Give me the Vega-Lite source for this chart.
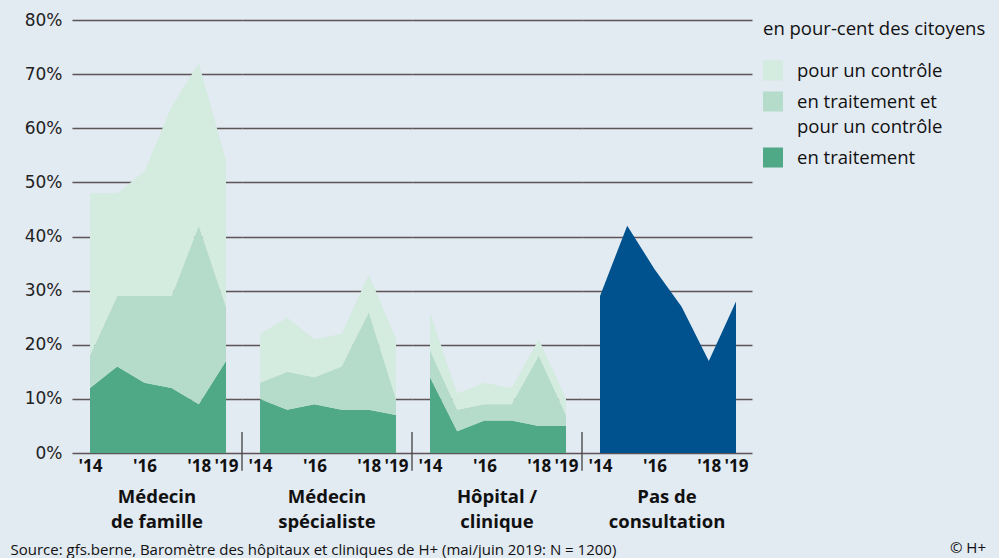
{
  "$schema": "https://vega.github.io/schema/vega-lite/v6.json",
  "background": "#e2eaf2",
  "padding": {"left": 10, "top": 11, "right": 14, "bottom": 4},
  "bounds": "flush",
  "title": {
    "text": "© H+",
    "orient": "bottom",
    "anchor": "end",
    "frame": "bounds",
    "font": "Open Sans",
    "fontSize": 15,
    "fontWeight": "normal",
    "color": "#111",
    "offset": 0,
    "dy": -16
  },
  "data": {
    "values": [
      {"groupe": "Médecin|de famille", "type": "en traitement", "annee": 2014, "valeur": 12},
      {"groupe": "Médecin|de famille", "type": "en traitement", "annee": 2015, "valeur": 16},
      {"groupe": "Médecin|de famille", "type": "en traitement", "annee": 2016, "valeur": 13},
      {"groupe": "Médecin|de famille", "type": "en traitement", "annee": 2017, "valeur": 12},
      {"groupe": "Médecin|de famille", "type": "en traitement", "annee": 2018, "valeur": 9},
      {"groupe": "Médecin|de famille", "type": "en traitement", "annee": 2019, "valeur": 17},
      {"groupe": "Médecin|de famille", "type": "en traitement et|pour un contrôle", "annee": 2014, "valeur": 6},
      {"groupe": "Médecin|de famille", "type": "en traitement et|pour un contrôle", "annee": 2015, "valeur": 13},
      {"groupe": "Médecin|de famille", "type": "en traitement et|pour un contrôle", "annee": 2016, "valeur": 16},
      {"groupe": "Médecin|de famille", "type": "en traitement et|pour un contrôle", "annee": 2017, "valeur": 17},
      {"groupe": "Médecin|de famille", "type": "en traitement et|pour un contrôle", "annee": 2018, "valeur": 33},
      {"groupe": "Médecin|de famille", "type": "en traitement et|pour un contrôle", "annee": 2019, "valeur": 10},
      {"groupe": "Médecin|de famille", "type": "pour un contrôle", "annee": 2014, "valeur": 30},
      {"groupe": "Médecin|de famille", "type": "pour un contrôle", "annee": 2015, "valeur": 19},
      {"groupe": "Médecin|de famille", "type": "pour un contrôle", "annee": 2016, "valeur": 23},
      {"groupe": "Médecin|de famille", "type": "pour un contrôle", "annee": 2017, "valeur": 35},
      {"groupe": "Médecin|de famille", "type": "pour un contrôle", "annee": 2018, "valeur": 30},
      {"groupe": "Médecin|de famille", "type": "pour un contrôle", "annee": 2019, "valeur": 27},
      {"groupe": "Médecin|spécialiste", "type": "en traitement", "annee": 2014, "valeur": 10},
      {"groupe": "Médecin|spécialiste", "type": "en traitement", "annee": 2015, "valeur": 8},
      {"groupe": "Médecin|spécialiste", "type": "en traitement", "annee": 2016, "valeur": 9},
      {"groupe": "Médecin|spécialiste", "type": "en traitement", "annee": 2017, "valeur": 8},
      {"groupe": "Médecin|spécialiste", "type": "en traitement", "annee": 2018, "valeur": 8},
      {"groupe": "Médecin|spécialiste", "type": "en traitement", "annee": 2019, "valeur": 7},
      {"groupe": "Médecin|spécialiste", "type": "en traitement et|pour un contrôle", "annee": 2014, "valeur": 3},
      {"groupe": "Médecin|spécialiste", "type": "en traitement et|pour un contrôle", "annee": 2015, "valeur": 7},
      {"groupe": "Médecin|spécialiste", "type": "en traitement et|pour un contrôle", "annee": 2016, "valeur": 5},
      {"groupe": "Médecin|spécialiste", "type": "en traitement et|pour un contrôle", "annee": 2017, "valeur": 8},
      {"groupe": "Médecin|spécialiste", "type": "en traitement et|pour un contrôle", "annee": 2018, "valeur": 18},
      {"groupe": "Médecin|spécialiste", "type": "en traitement et|pour un contrôle", "annee": 2019, "valeur": 3},
      {"groupe": "Médecin|spécialiste", "type": "pour un contrôle", "annee": 2014, "valeur": 9},
      {"groupe": "Médecin|spécialiste", "type": "pour un contrôle", "annee": 2015, "valeur": 10},
      {"groupe": "Médecin|spécialiste", "type": "pour un contrôle", "annee": 2016, "valeur": 7},
      {"groupe": "Médecin|spécialiste", "type": "pour un contrôle", "annee": 2017, "valeur": 6},
      {"groupe": "Médecin|spécialiste", "type": "pour un contrôle", "annee": 2018, "valeur": 7},
      {"groupe": "Médecin|spécialiste", "type": "pour un contrôle", "annee": 2019, "valeur": 11},
      {"groupe": "Hôpital /|clinique", "type": "en traitement", "annee": 2014, "valeur": 14},
      {"groupe": "Hôpital /|clinique", "type": "en traitement", "annee": 2015, "valeur": 4},
      {"groupe": "Hôpital /|clinique", "type": "en traitement", "annee": 2016, "valeur": 6},
      {"groupe": "Hôpital /|clinique", "type": "en traitement", "annee": 2017, "valeur": 6},
      {"groupe": "Hôpital /|clinique", "type": "en traitement", "annee": 2018, "valeur": 5},
      {"groupe": "Hôpital /|clinique", "type": "en traitement", "annee": 2019, "valeur": 5},
      {"groupe": "Hôpital /|clinique", "type": "en traitement et|pour un contrôle", "annee": 2014, "valeur": 5},
      {"groupe": "Hôpital /|clinique", "type": "en traitement et|pour un contrôle", "annee": 2015, "valeur": 4},
      {"groupe": "Hôpital /|clinique", "type": "en traitement et|pour un contrôle", "annee": 2016, "valeur": 3},
      {"groupe": "Hôpital /|clinique", "type": "en traitement et|pour un contrôle", "annee": 2017, "valeur": 3},
      {"groupe": "Hôpital /|clinique", "type": "en traitement et|pour un contrôle", "annee": 2018, "valeur": 13},
      {"groupe": "Hôpital /|clinique", "type": "en traitement et|pour un contrôle", "annee": 2019, "valeur": 2},
      {"groupe": "Hôpital /|clinique", "type": "pour un contrôle", "annee": 2014, "valeur": 7},
      {"groupe": "Hôpital /|clinique", "type": "pour un contrôle", "annee": 2015, "valeur": 3},
      {"groupe": "Hôpital /|clinique", "type": "pour un contrôle", "annee": 2016, "valeur": 4},
      {"groupe": "Hôpital /|clinique", "type": "pour un contrôle", "annee": 2017, "valeur": 3},
      {"groupe": "Hôpital /|clinique", "type": "pour un contrôle", "annee": 2018, "valeur": 3},
      {"groupe": "Hôpital /|clinique", "type": "pour un contrôle", "annee": 2019, "valeur": 3},
      {"groupe": "Pas de|consultation", "type": "aucune consultation", "annee": 2014, "valeur": 29},
      {"groupe": "Pas de|consultation", "type": "aucune consultation", "annee": 2015, "valeur": 42},
      {"groupe": "Pas de|consultation", "type": "aucune consultation", "annee": 2016, "valeur": 34},
      {"groupe": "Pas de|consultation", "type": "aucune consultation", "annee": 2017, "valeur": 27},
      {"groupe": "Pas de|consultation", "type": "aucune consultation", "annee": 2018, "valeur": 17},
      {"groupe": "Pas de|consultation", "type": "aucune consultation", "annee": 2019, "valeur": 28}
    ]
  },
  "facet": {
    "column": {
      "field": "groupe",
      "type": "nominal",
      "sort": ["Médecin|de famille", "Médecin|spécialiste", "Hôpital /|clinique", "Pas de|consultation"],
      "title": null,
      "header": {
        "labelOrient": "bottom",
        "labelExpr": "split(datum.label, '|')",
        "labelFont": "Open Sans",
        "labelFontWeight": "bold",
        "labelFontSize": 18.5,
        "labelColor": "#111",
        "labelLineHeight": 25,
        "labelBaseline": "top",
        "labelPadding": 14
      }
    }
  },
  "spacing": 0,
  "spec": {
    "width": 170,
    "height": 433,
    "layer": [
      {
        "mark": {"type": "area", "opacity": 1},
        "encoding": {
          "x": {
            "field": "annee",
            "type": "quantitative",
            "scale": {"domain": [2013.338, 2019.588], "nice": false, "zero": false},
            "axis": {
              "values": [2014, 2016, 2018, 2019],
              "labelExpr": "\"'\" + slice(toString(datum.value), 2)",
              "title": null,
              "domain": false,
              "ticks": false,
              "grid": false,
              "labelFont": "Open Sans",
              "labelFontWeight": "bold",
              "labelFontSize": 17,
              "labelColor": "#111",
              "labelPadding": 5,
              "labelOverlap": false,
              "labelFlush": false
            }
          },
          "y": {
            "field": "valeur",
            "type": "quantitative",
            "stack": "zero",
            "scale": {"domain": [0, 80], "nice": false},
            "axis": {
              "values": [0, 10, 20, 30, 40, 50, 60, 70, 80],
              "labelExpr": "datum.value + '%'",
              "title": "Source: gfs.berne, Baromètre des hôpitaux et cliniques de H+ (mai/juin 2019: N = 1200)",
              "titleAngle": 0,
              "titleX": -62,
              "titleY": 529,
              "titleAlign": "left",
              "titleBaseline": "middle",
              "titleFont": "Open Sans",
              "titleFontSize": 15,
              "titleFontWeight": "normal",
              "titleColor": "#111",
              "titleLimit": 800,
              "domain": false,
              "ticks": false,
              "grid": true,
              "gridColor": "#5d5555",
              "gridWidth": 1.5,
              "labelFont": "DejaVu Sans",
              "labelFontSize": 17,
              "labelColor": "#222",
              "labelPadding": 10
            }
          },
          "color": {
            "field": "type",
            "type": "nominal",
            "scale": {
              "domain": ["pour un contrôle", "en traitement et|pour un contrôle", "en traitement", "aucune consultation"],
              "range": ["#d4ebdf", "#b5dccb", "#4fa886", "#00528f"]
            },
            "legend": {
              "values": ["pour un contrôle", "en traitement et|pour un contrôle", "en traitement"],
              "orient": "none",
              "legendX": 691,
              "legendY": 0,
              "title": "en pour-cent des citoyens",
              "titleFont": "Open Sans",
              "titleFontSize": 18.5,
              "titleFontWeight": "normal",
              "titleColor": "#111",
              "titleLimit": 400,
              "titlePadding": 22,
              "labelExpr": "split(datum.label, '|')",
              "labelFont": "Open Sans",
              "labelFontSize": 18.5,
              "labelColor": "#111",
              "labelOffset": 14,
              "labelLimit": 300,
              "symbolType": "square",
              "symbolSize": 400,
              "symbolStrokeWidth": 0,
              "symbolOpacity": 1,
              "rowPadding": 11
            }
          },
          "order": {"field": "type", "sort": "ascending"}
        }
      },
      {
        "transform": [
          {"filter": "datum.groupe != 'Pas de|consultation'"},
          {"aggregate": [{"op": "count", "as": "n"}], "groupby": ["groupe"]}
        ],
        "mark": {"type": "rule", "color": "#333", "strokeWidth": 1.2, "clip": false},
        "encoding": {
          "x": {"datum": 2019.588, "type": "quantitative"},
          "y": {"datum": 3.9, "type": "quantitative"},
          "y2": {"datum": -3.3}
        }
      }
    ]
  },
  "config": {
    "view": {"stroke": null},
    "font": "Open Sans",
    "style": {"guide-label": {"lineHeight": 25}}
  }
}
